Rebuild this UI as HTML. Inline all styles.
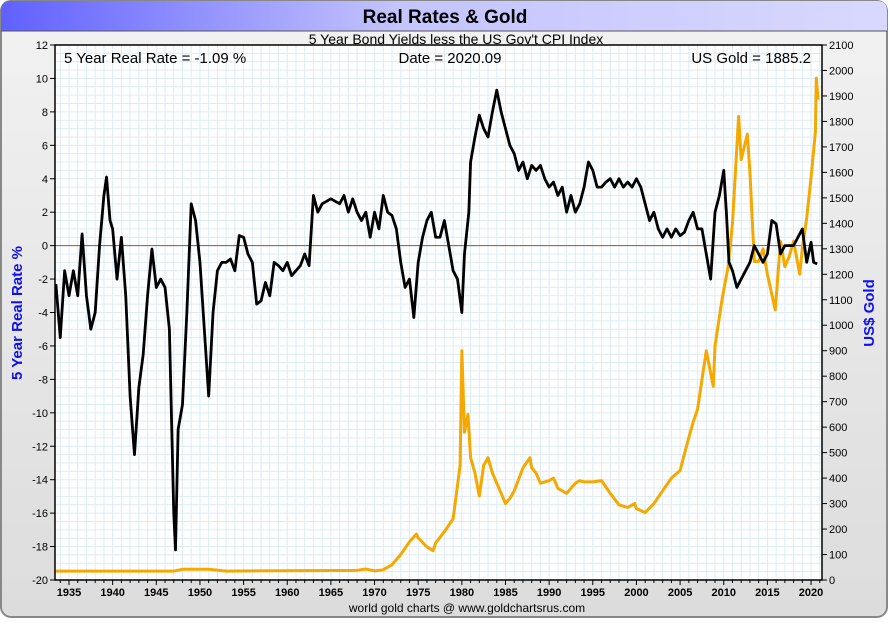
<!DOCTYPE html>
<html><head><meta charset="utf-8"><style>
body{margin:0;background:#fff;font-family:"Liberation Sans",sans-serif}
</style></head><body>
<svg width="890" height="620" viewBox="0 0 890 620" xmlns="http://www.w3.org/2000/svg">
<defs>
<linearGradient id="tg" x1="0" x2="1" y1="0" y2="0"><stop offset="0" stop-color="#6060ff"/><stop offset="0.45" stop-color="#c4c4ff"/><stop offset="1" stop-color="#d8d8ff"/></linearGradient>
<linearGradient id="bg" x1="0" x2="0" y1="0" y2="1"><stop offset="0" stop-color="#f2f2f2"/><stop offset="1" stop-color="#dcdcdc"/></linearGradient>
</defs>
<rect x="1" y="1" width="886" height="616" rx="10" fill="url(#bg)" stroke="#888" stroke-width="2"/>
<path d="M1,31 L1,11 Q1,1 11,1 L877,1 Q887,1 887,11 L887,31 Z" fill="url(#tg)"/>
<line x1="1" y1="31" x2="887" y2="31" stroke="#555" stroke-width="1"/>
<text x="445" y="23" text-anchor="middle" font-size="19" font-weight="bold" fill="#000">Real Rates &amp; Gold</text>
<text x="456" y="44" text-anchor="middle" font-size="14" fill="#000">5 Year Bond Yields less the US Gov't CPI Index</text>
<rect x="55" y="45" width="767" height="535" fill="#fff"/>
<g id="grid"></g>
<g id="marks"></g>
<rect x="55" y="45" width="767" height="535" fill="none" stroke="#000" stroke-width="1.5"/>
<g id="axes"></g>
<text x="64" y="63" font-size="15">5 Year Real Rate = -1.09 %</text>
<text x="450" y="63" text-anchor="middle" font-size="15">Date = 2020.09</text>
<text x="811" y="63" text-anchor="end" font-size="15">US Gold = 1885.2</text>
<text transform="translate(22,313) rotate(-90)" text-anchor="middle" font-size="15" font-weight="bold" fill="#1010ee">5 Year Real Rate %</text>
<text transform="translate(874,313) rotate(-90)" text-anchor="middle" font-size="15" font-weight="bold" fill="#1010ee">US$ Gold</text>
<text x="467" y="612" text-anchor="middle" font-size="12">world gold charts @ www.goldchartsrus.com</text>
</svg>
<script>
const rateYears=[1933.5,1934,1934.5,1935,1935.5,1936,1936.5,1937,1937.5,1938,1938.5,1939,1939.3,1939.7,1940,1940.5,1941,1941.5,1942,1942.5,1943,1943.5,1944,1944.5,1945,1945.5,1946,1946.5,1947,1947.2,1947.5,1948,1948.5,1949,1949.5,1950,1950.5,1951,1951.5,1952,1952.5,1953,1953.5,1954,1954.5,1955,1955.5,1956,1956.5,1957,1957.5,1958,1958.5,1959,1959.5,1960,1960.5,1961,1961.5,1962,1962.5,1963,1963.5,1964,1965,1966,1966.5,1967,1967.5,1968,1968.5,1969,1969.5,1970,1970.5,1971,1971.5,1972,1972.5,1973,1973.5,1974,1974.5,1975,1975.5,1976,1976.5,1977,1977.5,1978,1978.5,1979,1979.5,1980,1980.3,1980.8,1981,1981.5,1982,1982.5,1983,1983.5,1984,1984.5,1985,1985.5,1986,1986.5,1987,1987.5,1988,1988.5,1989,1989.5,1990,1990.5,1991,1991.5,1992,1992.5,1993,1993.5,1994,1994.5,1995,1995.5,1996,1996.5,1997,1997.5,1998,1998.5,1999,1999.5,2000,2000.5,2001,2001.5,2002,2002.5,2003,2003.5,2004,2004.5,2005,2005.5,2006,2006.5,2007,2007.5,2008,2008.5,2009,2009.5,2010,2010.3,2010.6,2011,2011.5,2012,2012.5,2013,2013.5,2014,2014.5,2015,2015.5,2016,2016.5,2017,2017.5,2018,2018.5,2019,2019.5,2020,2020.3,2020.7];
const rateValues=[-2.3,-5.5,-1.5,-3,-1.5,-3,0.7,-3,-5,-4,0,3,4.1,1.5,1,-2,0.5,-3,-9,-12.5,-8.5,-6.5,-3,-0.2,-2.5,-2,-2.5,-5,-16,-18.2,-11,-9.5,-4,2.5,1.5,-1,-5,-9,-4,-1.5,-1,-1,-0.8,-1.5,0.6,0.5,-0.5,-1,-3.5,-3.3,-2.2,-3,-1,-1.2,-1.5,-1,-1.8,-1.5,-1.2,-0.5,-1.2,3,2,2.5,2.8,2.5,3,2,2.8,2,1.5,2,0.5,2,1,3,2,1.8,1,-1,-2.5,-2,-4.3,-1,0.5,1.5,2,0.5,0.5,1.5,0,-1.5,-2,-4,-0.5,2,5,6.5,7.8,7,6.5,8,9.3,8,7,6,5.5,4.5,5,4,4.8,4.5,4.8,4,3.5,3.8,3,3.5,2,3,2,2.5,3.5,5,4.5,3.5,3.5,3.8,4,3.5,4,3.5,3.8,3.5,4,3.5,2.5,1.5,2,1,0.5,1,0.5,1,0.6,0.8,1.5,2,1,1,-0.5,-2,2,3,4.5,2,-1,-1.5,-2.5,-2,-1.5,-1,0,-0.5,-1,-0.5,1.5,1.3,-0.5,0,0,0,0.5,1,-1,0.2,-1,-1.09];
const goldYears=[1933.5,1947,1948,1951,1953,1968,1969,1970,1971,1972,1973,1974,1974.8,1975,1976,1976.7,1977,1978,1979,1979.8,1980,1980.3,1980.7,1981,1981.5,1982,1982.5,1983,1983.5,1984,1985,1985.5,1986,1987,1987.8,1988,1988.5,1989,1990,1990.5,1991,1992,1993,1993.5,1994,1995,1996,1997,1998,1999,1999.8,2000,2001,2002,2003,2004,2005,2006,2006.5,2007,2008,2008.8,2009,2009.8,2010.5,2011,2011.7,2012,2012.7,2013,2013.5,2014,2014.5,2015,2015.9,2016.5,2017,2017.5,2018,2018.7,2019,2019.5,2020,2020.5,2020.6,2020.8];
const goldValues=[35,35,42,42,35,38,43,36,40,60,100,150,180,165,130,115,145,190,240,450,900,580,650,480,420,330,450,480,420,380,300,320,350,440,480,440,420,380,390,400,360,340,380,390,385,385,390,340,295,285,300,280,265,300,350,400,430,560,620,670,900,760,920,1100,1230,1400,1820,1650,1750,1600,1250,1250,1300,1200,1060,1330,1230,1270,1330,1200,1300,1420,1580,1760,1970,1885];
const leftTicks=[12,10,8,6,4,2,0,-2,-4,-6,-8,-10,-12,-14,-16,-18,-20];
const rightTicks=[0,100,200,300,400,500,600,700,800,900,1000,1100,1200,1300,1400,1500,1600,1700,1800,1900,2000,2100];
const yearTicks=[1935,1940,1945,1950,1955,1960,1965,1970,1975,1980,1985,1990,1995,2000,2005,2010,2015,2020];

const NS="http://www.w3.org/2000/svg";
const X0=55,X1=822,Y0=45,Y1=580;
const xs=y=>69+(y-1935)*8.73;
const yl=v=>Y0+(12-v)/32*(Y1-Y0);
const yr=v=>Y1-v/2100*(Y1-Y0);
function mk(tag,attrs,parent){const e=document.createElementNS(NS,tag);for(const k in attrs)e.setAttribute(k,attrs[k]);parent.appendChild(e);return e;}
const grid=document.getElementById('grid'),axes=document.getElementById('axes'),marks=document.getElementById('marks');
for(let yy=1934;yy<=2021;yy++){const x=xs(yy);if(x<X0||x>X1)continue;
 const g=mk('line',{x1:x,x2:x,y1:Y0,y2:Y1,stroke:'#dcecf6','stroke-width':1},grid);
 
 
 const t=mk('line',{x1:x,x2:x,y1:Y1,y2:Y1+(yy%5===0?5:3),stroke:'#000'},axes);
 
 }
for(let v=-20;v<=12;v+=0.5){const y=yl(v);
 const g=mk('line',{x1:X0,x2:X1,y1:y,y2:y,stroke:'#dcecf6','stroke-width':1},grid);
 
 }
const z=mk('line',{x1:X0,x2:X1,y1:yl(0),y2:yl(0),stroke:'#666','stroke-width':1},grid);


leftTicks.forEach(v=>{const y=yl(v);
 mk('line',{x1:X0-5,x2:X0,y1:y,y2:y,stroke:'#000'},axes);
 const t=mk('text',{x:X0-7,y:y+4,'text-anchor':'end','font-size':11},axes);t.textContent=v;
 
 });
rightTicks.forEach(v=>{const y=yr(v);
 mk('line',{x1:X1,x2:X1+5,y1:y,y2:y,stroke:'#000'},axes);
 const t=mk('text',{x:X1+7,y:y+4,'font-size':11},axes);t.textContent=v;
 
 });
yearTicks.forEach(v=>{const t=mk('text',{x:xs(v),y:Y1+16,'text-anchor':'middle','font-size':11,'font-weight':'bold'},axes);t.textContent=v;
 
 });
const gp=mk('polyline',{points:goldYears.map((y,i)=>xs(y)+','+yr(goldValues[i])).join(' '),fill:'none',stroke:'#f5a800','stroke-width':3,'stroke-linejoin':'round'},marks);


const rp=mk('polyline',{points:rateYears.map((y,i)=>xs(y)+','+yl(rateValues[i])).join(' '),fill:'none',stroke:'#000','stroke-width':2.8,'stroke-linejoin':'round'},marks);


</script>
</body></html>
